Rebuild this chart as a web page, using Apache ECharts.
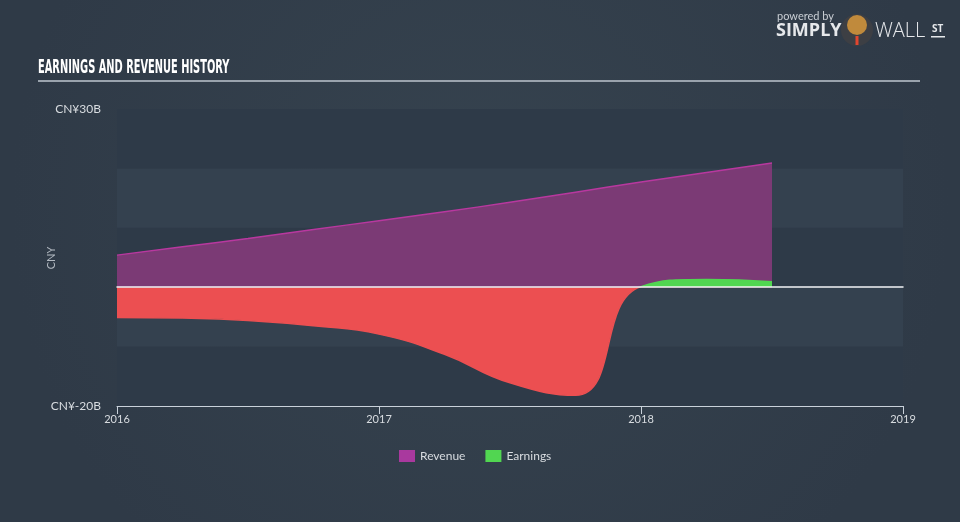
<!DOCTYPE html>
<html><head><meta charset="utf-8">
<script src="https://cdn.jsdelivr.net/npm/echarts@6/dist/echarts.min.js"></script>
<style>html,body{margin:0;padding:0;background:#333f4d;} #c{width:960px;height:522px;}</style>
</head><body><div id="c"></div>
<script>
// Period (fractional year) of each trailing-twelve-month data point
const periods = [2016.0, 2016.25, 2016.5, 2016.75, 2017.0, 2017.25, 2017.5, 2017.75, 2018.0, 2018.25, 2018.5];
// CNY billions
const revenue = [5.4, 6.8, 8.2, 9.7, 11.2, 12.7, 14.3, 16.0, 17.7, 19.3, 20.9];
const earnings = [-5.1, -5.2, -5.6, -6.5, -7.9, -11.3, -16.1, -18.2, 0.1, 1.3, 0.9];
const xTickYears = [2016, 2017, 2018, 2019];
const yTickLabels = { '30': 'CN¥30B', '-20': 'CN¥-20B' };
const yAxisName = 'CNY';
const seriesNames = ['Revenue', 'Earnings'];

const chart = echarts.init(document.getElementById('c'), null, { renderer: 'canvas' });
const pair = arr => periods.map((p, i) => [p, arr[i]]);
const xMin = xTickYears[0], xMax = xTickYears[xTickYears.length - 1];

chart.setOption({
  backgroundColor: {
    type: 'radial', x: 0.5, y: 0.4, r: 0.9,
    colorStops: [{ offset: 0, color: '#36434f' }, { offset: 1, color: '#2f3a47' }]
  },
  animation: false,
  grid: { left: 117, right: 57, top: 109, bottom: 116 },
  legend: {
    data: seriesNames,
    left: 394, top: 445,
    icon: 'rect', itemWidth: 16, itemHeight: 12, itemGap: 20,
    textStyle: { color: '#d8dce0', fontFamily: 'Lato', fontSize: 12 }
  },
  visualMap: {
    show: false, type: 'piecewise', seriesIndex: 1, dimension: 1,
    pieces: [{ gt: -1000, lt: 0, color: '#ec4f51' }, { gte: 0, lte: 1000, color: '#51d651' }],
    outOfRange: { color: '#ec4f51' }
  },
  xAxis: [{
    type: 'value', min: xMin, max: xMax, interval: 1, position: 'bottom',
    axisLine: { show: true, onZero: false, lineStyle: { color: '#c9d1da', width: 1 } },
    axisTick: { show: true, length: 8, lineStyle: { color: '#c9d1da' } },
    axisLabel: { color: '#d8dce0', fontFamily: 'Lato', fontSize: 11, margin: 8,
      formatter: v => String(Math.round(v)) },
    splitLine: { show: false }
  }, {
    type: 'value', min: xMin, max: xMax, interval: 1, position: 'top', z: 10,
    axisLine: { show: true, onZero: true, lineStyle: { color: '#f2f4f6', width: 1.5 } },
    axisTick: { show: false }, axisLabel: { show: false }, splitLine: { show: false }
  }],
  yAxis: {
    type: 'value', min: -20, max: 30, interval: 10,
    axisLine: { show: false, onZero: false }, axisTick: { show: false },
    axisLabel: { color: '#d8dce0', fontFamily: 'Lato', fontSize: 12, margin: 16,
      formatter: v => yTickLabels[String(v)] || '' },
    splitLine: { show: false },
    splitArea: { show: true, areaStyle: { color: ['#2e3a48', '#34414f'] } }
  },
  series: [
    {
      name: seriesNames[0], type: 'line', data: pair(revenue), smooth: true,
      showSymbol: false, z: 2,
      itemStyle: { color: '#a9399e' },
      lineStyle: { color: '#b8389f', width: 1.5 },
      areaStyle: { color: '#7b3a75', opacity: 1 }
    },
    {
      name: seriesNames[1], type: 'line', data: pair(earnings), smooth: true,
      showSymbol: false, z: 3,
      itemStyle: { color: '#51d651' },
      lineStyle: { width: 1.5 },
      areaStyle: { opacity: 1 }
    }
  ],
  graphic: [
    { type: 'text', x: 51, y: 258, rotation: Math.PI / 2,
      style: { text: yAxisName, fill: '#b3bac2', font: '11px Lato, sans-serif',
        align: 'center', verticalAlign: 'middle' } },
    { type: 'text', left: 38, top: 59, scaleX: 0.576,
      style: { text: 'EARNINGS AND REVENUE HISTORY', fill: '#ffffff',
        font: 'bold 19px "Liberation Sans Narrow", "DejaVu Sans Condensed", sans-serif' } },
    { type: 'rect', shape: { x: 38, y: 80, width: 882, height: 2 }, style: { fill: '#9aa3ad' } },
    { type: 'text', left: 777, top: 11,
      style: { text: 'powered by', fill: '#c9ced4', font: '11px Lato, sans-serif' } },
    { type: 'text', left: 776, top: 22,
      style: { text: 'SIMPLY', fill: '#e6e8eb', font: 'bold 18px "Open Sans", sans-serif' } },
    { type: 'circle', shape: { cx: 857, cy: 30, r: 16 }, style: { fill: '#3d3f44' } },
    { type: 'circle', shape: { cx: 857, cy: 25, r: 10 }, style: { fill: '#c08a3c' } },
    { type: 'rect', shape: { x: 855.5, y: 36, width: 3, height: 9 }, style: { fill: '#e2462f' } },
    { type: 'text', left: 875, top: 21,
      style: { text: 'WALL', fill: '#e6e8eb', font: '300 20px "Open Sans", sans-serif' } },
    { type: 'text', left: 932, top: 24,
      style: { text: 'ST', fill: '#e6e8eb', font: 'bold 10px "Open Sans", sans-serif' } },
    { type: 'rect', shape: { x: 931, y: 36, width: 14, height: 1.5 }, style: { fill: '#e6e8eb' } }
  ]
});
</script></body></html>
